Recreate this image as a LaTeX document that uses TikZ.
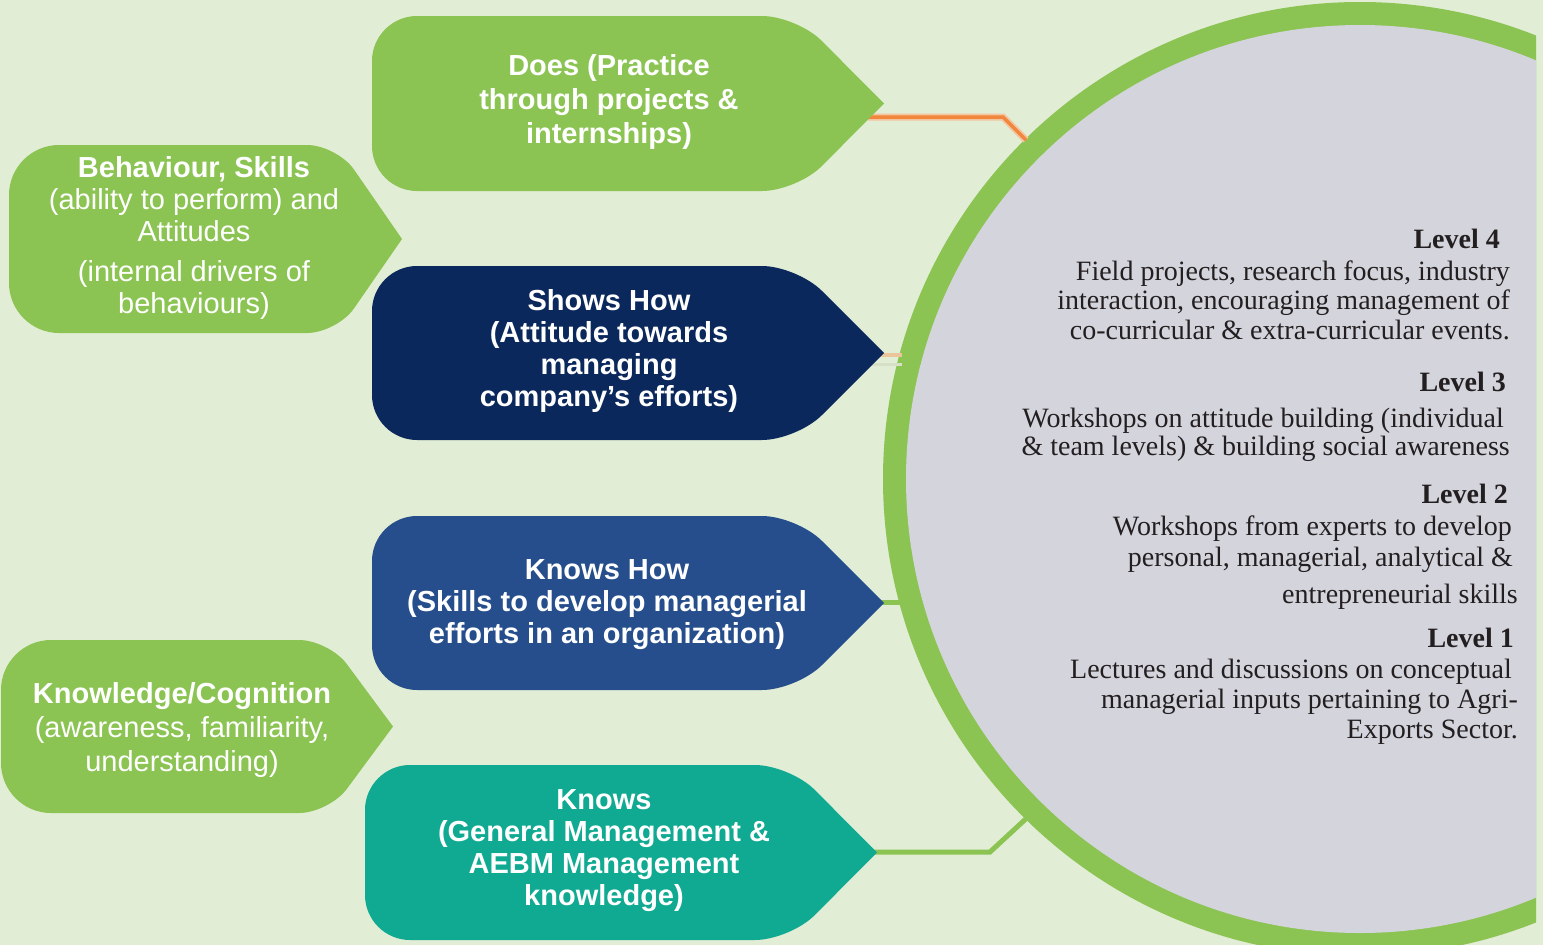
\documentclass[tikz,border=0pt]{standalone}
\usepackage{fontspec}
\setmainfont{Liberation Sans}
\newfontfamily\serifrm{Liberation Serif}
\usetikzlibrary{calc}
\definecolor{bgc}{RGB}{225,237,213}
\definecolor{ringc}{RGB}{139,196,82}
\definecolor{innerc}{RGB}{212,212,220}
\definecolor{navyc}{RGB}{11,40,92}
\definecolor{bluec}{RGB}{38,78,140}
\definecolor{tealc}{RGB}{16,170,146}
\definecolor{orangec}{RGB}{240,135,60}
\definecolor{haloc}{RGB}{244,196,158}
\definecolor{paleorange}{RGB}{236,198,155}
\definecolor{palebeige}{RGB}{214,224,198}
\definecolor{textc}{RGB}{35,31,32}
% #1 colour, #2 left x, #3 top y, #4 bottom y, #5 tip x, #6 shoulder x, #7 left radius, #8 right radius
\newcommand\ptbox[8]{%
  \coordinate (tl) at (#2,#3);
  \coordinate (tr) at (#6,#3);
  \coordinate (tip) at (#5,{(#3+#4)/2});
  \coordinate (br) at (#6,#4);
  \coordinate (bl) at (#2,#4);
  \fill[#1] ($(tl)!#7pt!(bl)$)
    .. controls ($(tl)!0.45*#7pt!(bl)$) and ($(tl)!0.45*#7pt!(tr)$) .. ($(tl)!#7pt!(tr)$)
    -- ($(tr)!#8pt!(tl)$)
    .. controls ($(tr)!0.45*#8pt!(tl)$) and ($(tr)!0.45*#8pt!(tip)$) .. ($(tr)!#8pt!(tip)$)
    -- (tip)
    -- ($(br)!#8pt!(tip)$)
    .. controls ($(br)!0.45*#8pt!(tip)$) and ($(br)!0.45*#8pt!(bl)$) .. ($(br)!#8pt!(bl)$)
    -- ($(bl)!#7pt!(br)$)
    .. controls ($(bl)!0.45*#7pt!(br)$) and ($(bl)!0.45*#7pt!(tl)$) .. ($(bl)!#7pt!(tl)$)
    -- cycle;
}
\begin{document}
\begin{tikzpicture}[x=1pt,y=-1pt,
  boxtext/.style={text=white, align=center, inner sep=0pt, font=\fontsize{29}{32}\selectfont\bfseries},
  sidetext/.style={text=white, align=center, inner sep=0pt, font=\fontsize{29}{32}\selectfont},
  rtext/.style={anchor=base east, inner sep=0pt, text=textc, font=\serifrm\fontsize{28}{30}\selectfont},
  rhead/.style={rtext, font=\serifrm\bfseries\fontsize{28}{30}\selectfont},
  conn/.style={line width=5pt, ringc}
]
\useasboundingbox (0,0) rectangle (1543,945);
\fill[bgc] (0,0) rectangle (1543,945);
% big circle
\begin{scope}
  \clip (0,0) rectangle (1536,945);
  \fill[ringc] (1360,479) circle (477pt);
  \fill[innerc] (1360,479) circle (454pt);
\end{scope}
% connector end points
\coordinate (doesA) at (868,117);
\coordinate (doesB) at (1003,117);
\coordinate (doesC) at (1026,140);
\coordinate (showsA) at (870,355);
\coordinate (showsB) at (902,355);
\coordinate (showsA2) at (870,364);
\coordinate (showsB2) at (902,364);
\coordinate (khA) at (870,602);
\coordinate (khB) at (903,602);
\coordinate (knA) at (862,852);
\coordinate (knB) at (990,852);
\coordinate (knC) at (1030,815);
% connectors
\draw[line width=7pt, haloc] (doesA) -- (doesB) -- (doesC);
\draw[line width=3.5pt, orangec] (doesA) -- (doesB) -- (doesC);
\draw[line width=4pt, paleorange] (showsA) -- (showsB);
\draw[line width=3pt, palebeige] (showsA2) -- (showsB2);
\draw[conn] (khA) -- (khB);
\draw[conn] (knA) -- (knB) -- (knC);
% boxes
\ptbox{ringc}{372}{16}{191}{884}{797}{45}{35}
\ptbox{navyc}{372}{266}{440}{884}{797}{45}{35}
\ptbox{bluec}{372}{516}{690}{884}{797}{45}{35}
\ptbox{tealc}{365}{765}{940}{877}{790}{45}{35}
\ptbox{ringc}{9}{145}{333}{402}{337}{50}{30}
\ptbox{ringc}{1}{640}{813}{393}{329}{50}{30}
% box texts
\node[boxtext, font=\fontsize{29}{34}\selectfont\bfseries] (does) at (609,102) {Does (Practice\\through projects \&\\internships)};
\node[boxtext] (shows) at (609,350.5) {Shows How\\(Attitude towards\\managing\\company’s efforts)};
\node[boxtext] (knowshow) at (607,605) {Knows How\\(Skills to develop managerial\\efforts in an organization)};
\node[boxtext] (knows) at (604,851) {Knows\\(General Management \&\\AEBM Management\\knowledge)};
\node[sidetext] (behav) at (194,237.5) {\textbf{Behaviour, Skills}\\(ability to perform) and\\Attitudes\\[8pt](internal drivers of\\behaviours)};
\node[sidetext, font=\fontsize{29}{34}\selectfont] (knowl) at (182,730) {\textbf{Knowledge/Cognition}\\(awareness, familiarity,\\understanding)};
% level texts
\node[rhead] (l4) at (1500,248) {Level 4};
\node[rtext] (l4a) at (1510,280) {Field projects, research focus, industry};
\node[rtext] (l4b) at (1510,309) {interaction, encouraging management of};
\node[rtext] (l4c) at (1510,339) {co-curricular \& extra-curricular events.};
\node[rhead] (l3) at (1506,391) {Level 3};
\node[rtext] (l3a) at (1504,427) {Workshops on attitude building (individual};
\node[rtext] (l3b) at (1510,455) {\& team levels) \& building social awareness};
\node[rhead] (l2) at (1508,503) {Level 2};
\node[rtext] (l2a) at (1512,535) {Workshops from experts to develop};
\node[rtext] (l2b) at (1513,566) {personal, managerial, analytical \&};
\node[rtext] (l2c) at (1518,603) {entrepreneurial skills};
\node[rhead] (l1) at (1514,647) {Level 1};
\node[rtext] (l1a) at (1512,678) {Lectures and discussions on conceptual};
\node[rtext] (l1b) at (1518,708) {managerial inputs pertaining to Agri-};
\node[rtext] (l1c) at (1518,738) {Exports Sector.};
\end{tikzpicture}
\end{document}
